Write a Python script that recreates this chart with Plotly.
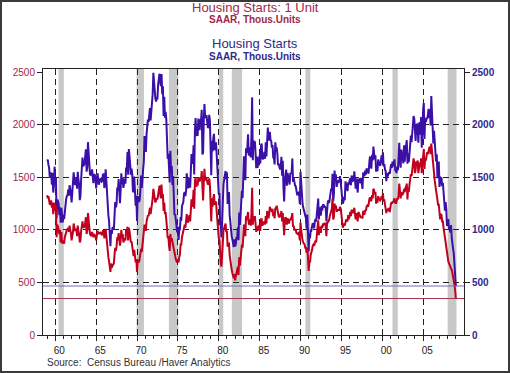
import plotly.graph_objects as go

# ---------------- data ----------------
start_year = 1959  # first observation: Jan 1959, monthly SAAR

total_starts = [
    1657, 1667, 1620, 1590, 1498, 1503, 1547, 1430, 1540, 1355, 1416, 1601,  # 1959
    1460, 1503, 1109, 1289, 1271, 1247, 1140, 1214, 1067, 1210, 1121, 1072,  # 1960
    1143, 1103, 1166, 1250, 1294, 1321, 1327, 1383, 1326, 1424, 1388, 1346,  # 1961
    1260, 1347, 1409, 1548, 1479, 1425, 1467, 1491, 1392, 1553, 1479, 1434,  # 1962
    1283, 1322, 1483, 1614, 1688, 1604, 1618, 1629, 1703, 1766, 1553, 1602,  # 1963
    1834, 1741, 1603, 1527, 1527, 1518, 1576, 1463, 1444, 1525, 1524, 1499,  # 1964
    1395, 1469, 1538, 1494, 1429, 1476, 1485, 1486, 1458, 1464, 1526, 1528,  # 1965
    1398, 1442, 1577, 1444, 1307, 1154, 1135, 1082, 986, 844, 999, 961,     # 1966
    1018, 1022, 1001, 1151, 1265, 1215, 1243, 1403, 1372, 1483, 1386, 1254,  # 1967
    1382, 1538, 1437, 1494, 1400, 1465, 1485, 1440, 1592, 1570, 1739, 1524,  # 1968
    1769, 1705, 1561, 1524, 1583, 1528, 1368, 1358, 1507, 1381, 1229, 1327,  # 1969
    1085, 1305, 1319, 1264, 1290, 1385, 1517, 1399, 1534, 1580, 1647, 1893,  # 1970
    1828, 1741, 1910, 1986, 2049, 2026, 2083, 2158, 2041, 2128, 2182, 2295,  # 1971
    2494, 2390, 2334, 2249, 2221, 2254, 2252, 2382, 2481, 2485, 2421, 2366,  # 1972
    2481, 2289, 2365, 2084, 2266, 2067, 2123, 2051, 1874, 1677, 1724, 1526,  # 1973
    1451, 1752, 1555, 1607, 1426, 1513, 1316, 1142, 1150, 1070, 1026, 975,   # 1974
    1032, 904, 993, 1005, 1121, 1087, 1226, 1260, 1264, 1344, 1360, 1321,    # 1975
    1367, 1538, 1421, 1395, 1459, 1495, 1401, 1550, 1720, 1629, 1641, 1804,  # 1976
    1527, 1943, 2063, 1892, 1971, 1893, 2058, 2020, 1949, 2042, 2042, 2142,  # 1977
    1718, 1738, 2032, 2197, 2075, 2070, 2092, 1996, 1970, 1981, 2094, 2044,  # 1978
    1630, 1520, 1847, 1748, 1876, 1913, 1760, 1778, 1832, 1681, 1524, 1498,  # 1979
    1341, 1350, 1047, 1051, 927, 1196, 1269, 1436, 1471, 1523, 1560, 1482,   # 1980
    1547, 1246, 1306, 1360, 1140, 1045, 1041, 940, 911, 873, 837, 910,       # 1981
    843, 866, 931, 917, 1025, 902, 1166, 1046, 1144, 1173, 1372, 1303,       # 1982
    1586, 1699, 1606, 1472, 1776, 1733, 1785, 1910, 1710, 1715, 1785, 1688,  # 1983
    1897, 2260, 1663, 1851, 1774, 1843, 1732, 1586, 1698, 1590, 1689, 1612,  # 1984
    1711, 1632, 1800, 1821, 1680, 1676, 1684, 1743, 1676, 1834, 1698, 1942,  # 1985
    1972, 1848, 1876, 1933, 1854, 1847, 1782, 1807, 1687, 1681, 1623, 1833,  # 1986
    1774, 1784, 1726, 1614, 1628, 1594, 1575, 1605, 1695, 1515, 1656, 1400,  # 1987
    1271, 1473, 1532, 1573, 1421, 1541, 1509, 1468, 1431, 1535, 1542, 1542,  # 1988
    1678, 1457, 1491, 1424, 1422, 1415, 1353, 1338, 1339, 1351, 1342, 1244,  # 1989
    1551, 1437, 1289, 1248, 1212, 1177, 1171, 1115, 1110, 1014, 1145, 969,   # 1990
    798, 965, 921, 1001, 996, 1036, 1063, 1049, 1015, 1079, 1103, 1079,      # 1991
    1176, 1250, 1297, 1099, 1214, 1145, 1139, 1226, 1186, 1244, 1214, 1227,  # 1992
    1210, 1210, 1083, 1258, 1260, 1280, 1254, 1300, 1343, 1392, 1376, 1533,  # 1993
    1272, 1337, 1564, 1465, 1526, 1409, 1439, 1450, 1474, 1450, 1511, 1455,  # 1994
    1407, 1316, 1249, 1267, 1314, 1281, 1461, 1416, 1369, 1369, 1452, 1431,  # 1995
    1467, 1491, 1424, 1516, 1504, 1467, 1472, 1557, 1475, 1392, 1489, 1370,  # 1996
    1355, 1486, 1457, 1492, 1442, 1494, 1437, 1390, 1546, 1520, 1510, 1566,  # 1997
    1525, 1584, 1567, 1540, 1536, 1641, 1698, 1614, 1582, 1715, 1660, 1792,  # 1998
    1748, 1670, 1710, 1553, 1611, 1559, 1669, 1648, 1635, 1608, 1648, 1708,  # 1999
    1636, 1737, 1604, 1626, 1575, 1559, 1463, 1541, 1507, 1549, 1551, 1532,  # 2000
    1600, 1625, 1590, 1649, 1605, 1636, 1670, 1567, 1562, 1540, 1602, 1568,  # 2001
    1698, 1829, 1642, 1592, 1764, 1717, 1655, 1633, 1804, 1648, 1753, 1788,  # 2002
    1853, 1629, 1726, 1643, 1751, 1867, 1897, 1833, 1939, 1967, 2083, 2057,  # 2003
    1911, 1846, 1998, 2003, 1981, 1828, 2002, 2024, 1905, 2072, 1782, 2042,  # 2004
    2144, 2207, 1864, 2061, 2025, 2068, 2054, 2095, 2151, 2065, 2147, 1994,  # 2005
    2273, 2119, 1969, 1821, 1942, 1802, 1737, 1650, 1720, 1491, 1570, 1649,  # 2006
    1409, 1480, 1495, 1490, 1415, 1448, 1354, 1330, 1183, 1264, 1197, 1037,  # 2007
    1084, 1103, 1005, 1013, 973, 1046, 923, 844, 820, 777, 652, 560,         # 2008
    466,                                                                     # 2009
]

single_family = [
    1330, 1300, 1320, 1270, 1240, 1250, 1280, 1210, 1260, 1150, 1190, 1260,  # 1959
    1180, 1230, 930, 1050, 1030, 1000, 960, 1000, 880, 980, 870, 900,        # 1960
    890, 870, 930, 960, 990, 1000, 1000, 1020, 980, 1040, 1000, 970,         # 1961
    900, 930, 980, 1060, 1000, 990, 1000, 1010, 940, 1040, 990, 960,         # 1962
    880, 900, 990, 1040, 1080, 1020, 1030, 1030, 1070, 1120, 960, 1000,      # 1963
    1160, 1060, 980, 960, 950, 940, 980, 930, 930, 960, 950, 940,            # 1964
    900, 950, 990, 970, 960, 980, 960, 970, 950, 950, 990, 990,              # 1965
    920, 940, 1010, 930, 850, 780, 740, 700, 650, 600, 680, 640,             # 1966
    660, 680, 680, 760, 830, 800, 840, 930, 900, 970, 930, 850,              # 1967
    900, 1000, 920, 960, 880, 900, 920, 900, 1000, 960, 1030, 900,           # 1968
    1020, 990, 900, 880, 890, 850, 770, 750, 810, 760, 690, 720,             # 1969
    600, 700, 710, 690, 730, 760, 820, 790, 860, 890, 950, 1050,             # 1970
    1030, 990, 1080, 1120, 1140, 1130, 1160, 1210, 1150, 1190, 1230, 1300,   # 1971
    1390, 1310, 1300, 1260, 1280, 1300, 1290, 1350, 1380, 1420, 1350, 1300,  # 1972
    1430, 1300, 1340, 1180, 1260, 1150, 1170, 1120, 1020, 920, 940, 850,     # 1973
    800, 960, 890, 920, 880, 870, 830, 770, 760, 720, 700, 690,              # 1974
    720, 690, 740, 770, 860, 860, 930, 960, 970, 1030, 1050, 1020,           # 1975
    1080, 1150, 1080, 1070, 1110, 1140, 1080, 1190, 1290, 1220, 1260, 1380,  # 1976
    1200, 1460, 1500, 1410, 1460, 1420, 1500, 1480, 1460, 1500, 1480, 1560,  # 1977
    1300, 1280, 1450, 1580, 1470, 1500, 1490, 1430, 1430, 1440, 1490, 1430,  # 1978
    1160, 1080, 1300, 1220, 1300, 1340, 1240, 1250, 1270, 1170, 1060, 1030,  # 1979
    920, 900, 720, 680, 650, 830, 890, 1000, 1020, 1040, 1060, 980,          # 1980
    990, 840, 860, 880, 760, 700, 680, 620, 590, 560, 540, 580,              # 1981
    520, 560, 590, 600, 650, 570, 740, 660, 720, 740, 860, 830,              # 1982
    1010, 1050, 1000, 940, 1130, 1090, 1130, 1170, 1060, 1050, 1100, 1040,   # 1983
    1160, 1400, 1050, 1130, 1100, 1130, 1060, 980, 1030, 990, 1040, 1010,    # 1984
    1050, 990, 1100, 1100, 1040, 1060, 1060, 1080, 1050, 1130, 1060, 1180,   # 1985
    1160, 1110, 1150, 1220, 1190, 1200, 1170, 1200, 1130, 1140, 1110, 1210,  # 1986
    1200, 1230, 1190, 1130, 1130, 1120, 1130, 1150, 1180, 1080, 1160, 1020,  # 1987
    950, 1090, 1120, 1110, 1050, 1110, 1080, 1060, 1100, 1090, 1110, 1120,   # 1988
    1160, 1030, 1040, 1000, 1000, 1000, 970, 960, 960, 970, 960, 900,        # 1989
    1070, 1000, 920, 900, 880, 870, 860, 830, 830, 780, 830, 740,            # 1990
    610, 700, 690, 760, 780, 810, 850, 860, 850, 880, 900, 880,              # 1991
    970, 1040, 1090, 950, 1030, 980, 980, 1040, 1020, 1060, 1050, 1060,      # 1992
    1060, 1040, 940, 1070, 1070, 1090, 1090, 1130, 1160, 1200, 1200, 1300,   # 1993
    1100, 1120, 1250, 1210, 1230, 1180, 1180, 1190, 1190, 1190, 1220, 1200,  # 1994
    1150, 1060, 1020, 1040, 1060, 1040, 1100, 1100, 1090, 1080, 1140, 1100,  # 1995
    1130, 1170, 1130, 1190, 1180, 1160, 1170, 1210, 1150, 1100, 1160, 1080,  # 1996
    1080, 1170, 1140, 1140, 1120, 1120, 1120, 1110, 1180, 1150, 1150, 1190,  # 1997
    1180, 1220, 1230, 1220, 1240, 1290, 1310, 1280, 1280, 1330, 1300, 1390,  # 1998
    1380, 1340, 1360, 1250, 1290, 1260, 1320, 1300, 1290, 1280, 1290, 1320,  # 1999
    1290, 1350, 1270, 1290, 1240, 1210, 1160, 1200, 1180, 1200, 1200, 1170,  # 2000
    1230, 1260, 1250, 1270, 1260, 1280, 1300, 1260, 1250, 1270, 1300, 1290,  # 2001
    1330, 1440, 1310, 1300, 1360, 1330, 1340, 1350, 1390, 1360, 1400, 1410,  # 2002
    1440, 1290, 1400, 1360, 1430, 1490, 1530, 1510, 1560, 1610, 1680, 1640,  # 2003
    1540, 1570, 1650, 1620, 1660, 1540, 1610, 1640, 1600, 1680, 1540, 1650,  # 2004
    1710, 1770, 1580, 1680, 1660, 1700, 1740, 1720, 1760, 1780, 1790, 1720,  # 2005
    1820, 1750, 1640, 1550, 1540, 1470, 1420, 1360, 1360, 1240, 1240, 1240,  # 2006
    1120, 1100, 1150, 1140, 1080, 1080, 1020, 970, 930, 880, 850, 790,       # 2007
    750, 700, 680, 670, 650, 630, 620, 590, 560, 530, 480, 430,              # 2008
    347,                                                                     # 2009
]

x_tick_years = [1960, 1965, 1970, 1975, 1980, 1985, 1990, 1995, 2000, 2005]
x_tick_labels = ["60", "65", "70", "75", "80", "85", "90", "95", "00", "05"]
y_ticks = [0, 500, 1000, 1500, 2000, 2500]
y_grid = [500, 1000, 1500, 2000]

# NBER recessions (decimal years, as shaded in the chart)
recession_start = [1960.40, 1969.95, 1973.90, 1980.00, 1981.60, 1990.60, 2001.25, 2008.00]
recession_end   = [1961.05, 1970.85, 1975.05, 1980.55, 1982.85, 1991.20, 2001.90, 2009.08]

# ---------------- styling ----------------
BLUE = "#3a10a8"
RED = "#c0001e"
RED_TXT = "#a02848"
BLUE_TXT = "#2e2a8c"
FONT = "Liberation Sans, Arial, sans-serif"
X_RANGE = [1958.5, 2010.0]
Y_RANGE = [0, 2530]

dates = [start_year + i / 12.0 for i in range(len(total_starts))]

fig = go.Figure()
fig.add_trace(go.Scatter(x=dates, y=total_starts, mode="lines",
                         line=dict(color=BLUE, width=2), xaxis="x", yaxis="y",
                         name="Housing Starts", hoverinfo="x+y"))
fig.add_trace(go.Scatter(x=dates, y=single_family, mode="lines",
                         line=dict(color=RED, width=2), xaxis="x", yaxis="y2",
                         name="Housing Starts: 1 Unit", hoverinfo="x+y"))
# helper (empty) traces so label axis and grid axis get drawn
fig.add_trace(go.Scatter(x=[], y=[], xaxis="x2", yaxis="y", showlegend=False))
fig.add_trace(go.Scatter(x=[], y=[], xaxis="x", yaxis="y3", showlegend=False))

shapes = []
for s, e in zip(recession_start, recession_end):
    shapes.append(dict(type="rect", xref="x", yref="paper", x0=s, x1=e, y0=0, y1=1,
                       fillcolor="#c8c8c8", line=dict(width=0), layer="below"))
# latest-value reference lines
shapes.append(dict(type="line", xref="paper", yref="y", x0=0, x1=1,
                   y0=total_starts[-1], y1=total_starts[-1],
                   line=dict(color="#7a68b8", width=1)))
shapes.append(dict(type="line", xref="paper", yref="y", x0=0, x1=1,
                   y0=single_family[-1], y1=single_family[-1],
                   line=dict(color="#a83048", width=1)))

W, H = 510, 373
ML, MR, MT, MB = 43, 46, 69, 38
PW, PH = W - ML - MR, H - MT - MB

def px_x(px):
    return (px - ML) / PW

def px_y(py):
    return (H - MB - py) / PH

# outer frame around image
shapes.append(dict(type="rect", xref="paper", yref="paper",
                   x0=px_x(1), x1=px_x(509), y0=px_y(372), y1=px_y(1),
                   line=dict(color="#3a3a3a", width=2), fillcolor="rgba(0,0,0,0)"))

annotations = [
    dict(text="Housing Starts: 1 Unit", x=px_x(255), y=px_y(7.5), font=dict(size=13, color=RED_TXT, family=FONT)),
    dict(text="<b>SAAR, Thous.Units</b>", x=px_x(255), y=px_y(19.5), font=dict(size=10, color=RED_TXT, family=FONT)),
    dict(text="Housing Starts", x=px_x(255), y=px_y(43.5), font=dict(size=13, color=BLUE_TXT, family=FONT)),
    dict(text="<b>SAAR, Thous.Units</b>", x=px_x(255), y=px_y(56.5), font=dict(size=10, color=BLUE_TXT, family=FONT)),
]
for a in annotations:
    a.update(xref="paper", yref="paper", showarrow=False, xanchor="center", yanchor="middle")
annotations.append(dict(text="Source:  Census Bureau /Haver Analytics", xref="paper", yref="paper",
                        x=px_x(45), y=px_y(363), xanchor="left", yanchor="middle", showarrow=False,
                        font=dict(size=10, color="#333333", family=FONT)))

AX = "#222222"
fig.update_layout(
    width=W, height=H,
    margin=dict(l=ML, r=MR, t=MT, b=MB, pad=0),
    paper_bgcolor="white", plot_bgcolor="white",
    showlegend=False,
    font=dict(family=FONT, size=10),
    shapes=shapes,
    annotations=annotations,
    xaxis=dict(range=X_RANGE, tickmode="array", tickvals=x_tick_years, showticklabels=False,
               ticks="outside", ticklen=5, tickcolor=AX,
               minor=dict(tickvals=list(range(1959, 2010)), ticks="outside", ticklen=3, tickcolor=AX, showgrid=False),
               showgrid=True, gridcolor=AX, gridwidth=1, griddash="6px,4px",
               showline=True, linecolor=AX, linewidth=1, mirror=True, zeroline=False),
    xaxis2=dict(range=X_RANGE, overlaying="x", anchor="y", side="bottom",
                tickmode="array", tickvals=[y + 0.5 for y in x_tick_years], ticktext=x_tick_labels,
                ticks="outside", ticklen=6, tickcolor="rgba(0,0,0,0)",
                tickfont=dict(size=10, color="#222222", family=FONT),
                showgrid=False, showline=False, zeroline=False),
    yaxis=dict(range=Y_RANGE, tickmode="array", tickvals=y_ticks,
               ticks="outside", ticklen=5, tickcolor=AX,
               tickfont=dict(size=10, color=RED_TXT, family=FONT),
               showgrid=False, showline=True, linecolor=AX, linewidth=1, zeroline=False),
    yaxis2=dict(range=Y_RANGE, overlaying="y", side="right", anchor="x", tickmode="array", tickvals=y_ticks,
                ticks="outside", ticklen=5, tickcolor=AX,
                tickfont=dict(size=10, color=BLUE_TXT, family=FONT, weight="bold"),
                showgrid=False, showline=True, linecolor=AX, linewidth=1, zeroline=False),
    yaxis3=dict(range=Y_RANGE, overlaying="y", tickmode="array", tickvals=y_grid, showticklabels=False,
                ticks="", showgrid=True, gridcolor=AX, gridwidth=1, griddash="6px,4px",
                showline=False, zeroline=False),
)

fig.write_html("out.html", config={"displayModeBar": False},
               post_script="document.body.style.margin='0px';")
